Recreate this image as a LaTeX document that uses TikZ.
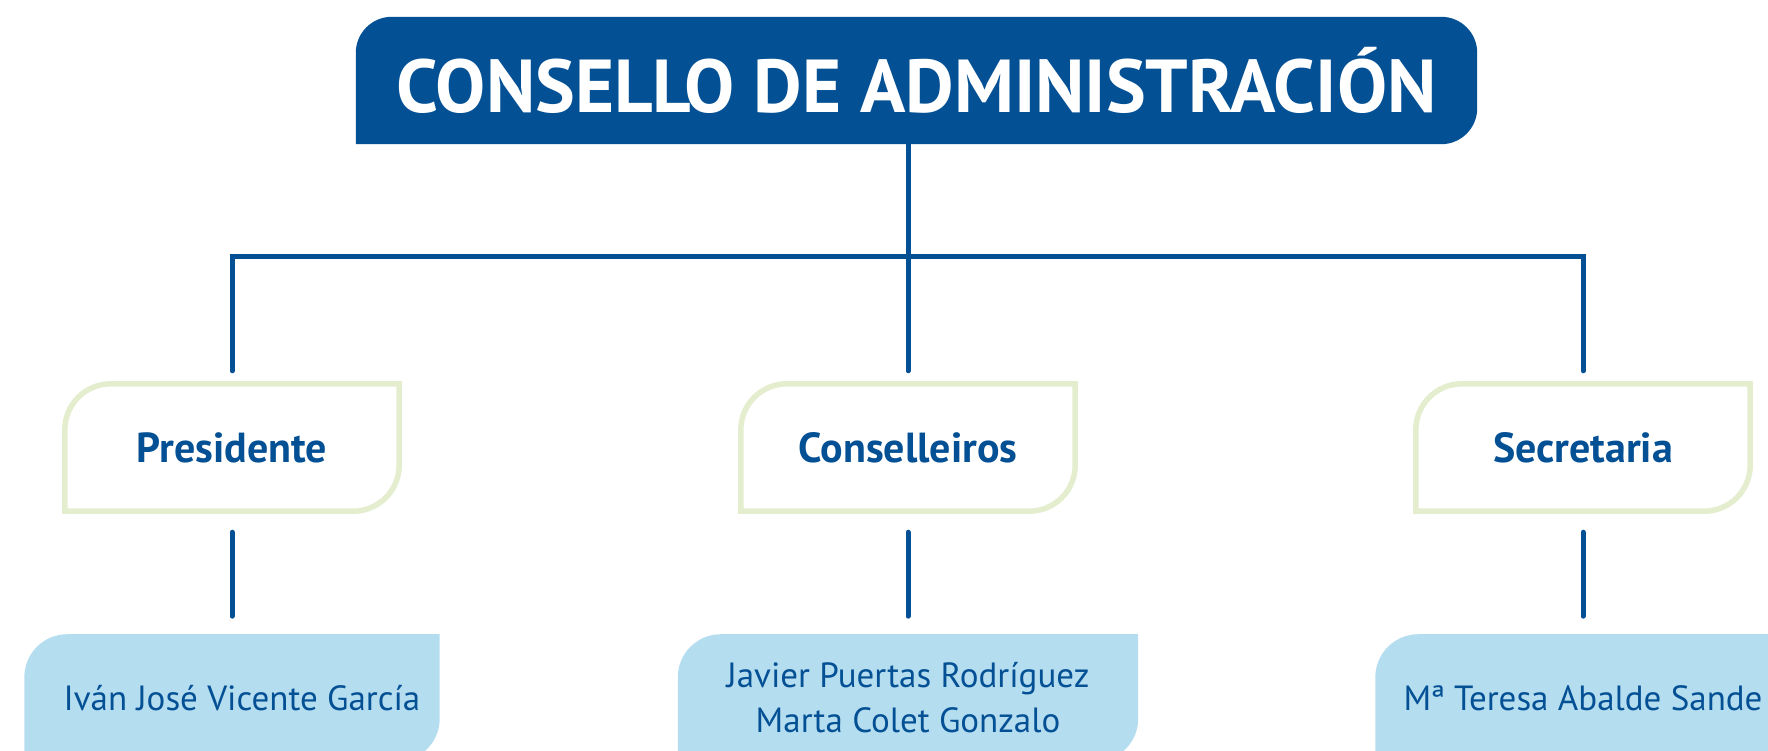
\documentclass[tikz,border=0pt]{standalone}
\usepackage{fontspec}
\setmainfont{PT Sans}
\usetikzlibrary{positioning, backgrounds}

\definecolor{boardblue}{HTML}{045094}
\definecolor{rolegreen}{HTML}{E4EDCD}
\definecolor{namesky}{HTML}{B5DDF0}

\begin{document}
\begin{tikzpicture}[x=1pt, y=1pt]
    % --- Style Definitions ---
    \tikzset{
        % Title block
        board box/.style={
            minimum width=1121pt,
            minimum height=127pt,
            inner sep=0pt,
            text=white,
            font=\fontsize{75}{75}\selectfont\bfseries
        },
        % Role boxes (outline only)
        role box/.style={
            minimum width=334pt,
            minimum height=127pt,
            inner sep=0pt,
            text=boardblue,
            font=\fontsize{42}{42}\selectfont\bfseries
        },
        role frame/.style={draw=rolegreen, line width=5.5pt, fill=white},
        % Name boxes
        name box/.style={
            minimum width=415pt,
            minimum height=127pt,
            inner sep=0pt,
            text=boardblue,
            align=center,
            font=\fontsize{35}{45}\selectfont
        },
        name fill/.style={fill=namesky},
        % Connectors
        link line/.style={draw=boardblue, line width=5pt, line cap=round}
    }

    \useasboundingbox (0,0) rectangle (1768,-750);

    % ==========================================
    % TOP: board
    % ==========================================
    \node[board box] (board) at (916.5,-80.5) {CONSELLO DE ADMINISTRACIÓN};

    % ==========================================
    % MIDDLE: roles
    % ==========================================
    \node[role box] (pres) at (232,-447.5) {Presidente};
    \node[role box] (cons) at (908,-447.5) {Conselleiros};
    \node[role box] (secr) at (1583,-447.5) {Secretaria};

    % ==========================================
    % BOTTOM: names
    % ==========================================
    \node[name box, below=123pt of pres] (pres_name) {\hspace*{20pt}Iván José Vicente García};
    \node[name box, minimum width=460pt, below=123pt of cons] (cons_name) {Javier Puertas Rodríguez\\Marta Colet Gonzalo};
    \node[name box, below=123pt of secr] (secr_name) {Mª Teresa Abalde Sande};

    % Connectors
    \coordinate (bus) at (908,-256);
    \draw[link line] (board.south -| bus) -- (bus);
    \draw[link line, shorten >=13pt] (bus) -| (pres.north);
    \draw[link line, shorten >=13pt] (bus) -| (secr.north);
    \draw[link line, shorten >=13pt] (bus) -- (cons.north);
    \foreach \r in {pres, cons, secr}
        \draw[link line, shorten <=21pt, shorten >=18pt] (\r.south) -- (\r_name.north);

    % Box outlines behind the texts
    \begin{scope}[on background layer]
        % title block: lower left corner stays square
        \fill[boardblue] (board.south west) -- ([yshift=-36pt]board.north west)
            arc[start angle=180, end angle=90, radius=36pt] -- ([xshift=-36pt]board.north east)
            arc[start angle=90, end angle=0, radius=36pt] -- ([yshift=36pt]board.south east)
            arc[start angle=0, end angle=-90, radius=36pt] -- cycle;
        \foreach \r in {pres, cons, secr} {
            \draw[role frame] (\r.south west) -- ([yshift=-46pt]\r.north west)
                arc[start angle=180, end angle=90, radius=46pt] -- (\r.north east)
                -- ([yshift=46pt]\r.south east)
                arc[start angle=0, end angle=-90, radius=46pt] -- cycle;
            \fill[name fill] (\r_name.south west) -- ([yshift=-43pt]\r_name.north west)
                arc[start angle=180, end angle=90, radius=43pt] -- (\r_name.north east)
                -- ([yshift=43pt]\r_name.south east)
                arc[start angle=0, end angle=-90, radius=43pt] -- cycle;
        }
    \end{scope}
\end{tikzpicture}
\end{document}
